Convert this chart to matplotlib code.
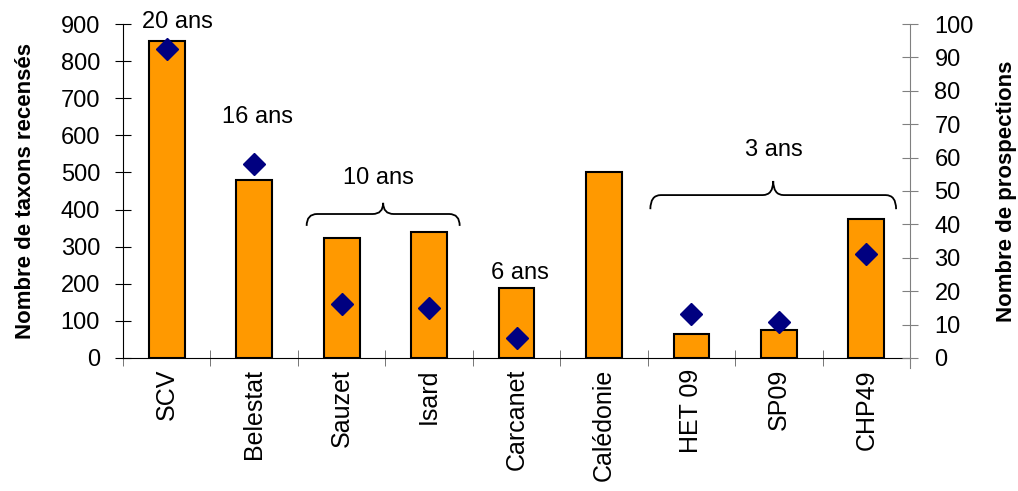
import matplotlib.pyplot as plt
from matplotlib.path import Path
from matplotlib.patches import PathPatch

plt.rcParams['font.family'] = ['Liberation Sans', 'DejaVu Sans']

# Data
sites = ['SCV', 'Belestat', 'Sauzet', 'Isard', 'Carcanet', 'Calédonie', 'HET 09', 'SP09', 'CHP49']
taxons = [855, 479, 323, 339, 189, 500, 65, 75, 375]
prospections = [92.5, 58, 16.2, 14.9, 6, None, 13.2, 10.8, 31]
durees = ['20 ans', '16 ans', '10 ans', '6 ans', '3 ans']

x = list(range(len(sites)))
fs = 17


def brace(ax, x0, x1, y_end, y_mid, y_tip, r=0.12):
    xm = (x0 + x1) / 2
    verts = [(x0, y_end), (x0, y_mid), (x0 + r, y_mid),
             (xm - r, y_mid), (xm, y_mid), (xm, y_tip),
             (xm, y_mid), (xm + r, y_mid),
             (x1 - r, y_mid), (x1, y_mid), (x1, y_end)]
    codes = [Path.MOVETO, Path.CURVE3, Path.CURVE3,
             Path.LINETO, Path.CURVE3, Path.CURVE3,
             Path.CURVE3, Path.CURVE3,
             Path.LINETO, Path.CURVE3, Path.CURVE3]
    ax.add_patch(PathPatch(Path(verts, codes), fill=False, lw=1.3, color='black', clip_on=False))


fig = plt.figure(figsize=(10.18, 4.91), dpi=100)
ax = fig.add_axes([0.1208, 0.2709, 0.7732, 0.6802])
ax2 = ax.twinx()

ax.bar(x, taxons, width=0.41, color='#FF9900', edgecolor='black', linewidth=1.5, zorder=2)
ax.set_xlim(-0.5, len(sites) - 0.5)
ax.set_ylim(0, 900)
ax.set_yticks(range(0, 901, 100))

px = [i for i, v in zip(x, prospections) if v is not None]
pv = [v for v in prospections if v is not None]
ax2.plot(px, pv, linestyle='none', marker='D', markersize=11, color='#000080', zorder=3)
ax2.set_ylim(0, 100)
ax2.set_yticks(range(0, 101, 10))

ax.set_xticks(x)
ax.set_xticklabels(sites, rotation=90, fontsize=18)
ax.set_xticks([i - 0.5 for i in range(len(sites) + 1)], minor=True)
ax.tick_params(axis='x', which='major', length=0, pad=8)
ax.tick_params(axis='x', which='minor', direction='inout', length=11, color='#606060')
ax.tick_params(axis='y', direction='inout', length=11, labelsize=fs, pad=11)
ax2.tick_params(axis='y', direction='inout', length=11, labelsize=fs, color='#808080', pad=12)

for a in (ax, ax2):
    a.spines['top'].set_visible(False)
ax.spines['right'].set_visible(False)
ax2.spines['left'].set_visible(False)
ax2.spines['bottom'].set_visible(False)
ax2.spines['right'].set_color('#808080')
ax2.spines['right'].set_bounds(-3, 100)
ax.patch.set_visible(False)
ax2.set_zorder(ax.get_zorder() + 1)

ax.set_ylabel('Nombre de taxons recensés', fontsize=16, fontweight='bold', labelpad=18)
ax2.set_ylabel('Nombre de prospections', fontsize=16, fontweight='bold', rotation=90, labelpad=16)

# duration annotations
ax.text(0.12, 905, durees[0], fontsize=fs, ha='center', va='center', clip_on=False)
ax.text(1.04, 650, durees[1], fontsize=fs, ha='center', va='center')
ax.text(2.42, 485, durees[2], fontsize=fs, ha='center', va='center')
ax.text(4.04, 229, durees[3], fontsize=fs, ha='center', va='center')
ax.text(6.94, 560, durees[4], fontsize=fs, ha='center', va='center')
brace(ax, 1.6, 3.35, 356, 388, 418)
brace(ax, 5.53, 8.34, 401, 439, 477)

plt.savefig('out.png', dpi=100)
